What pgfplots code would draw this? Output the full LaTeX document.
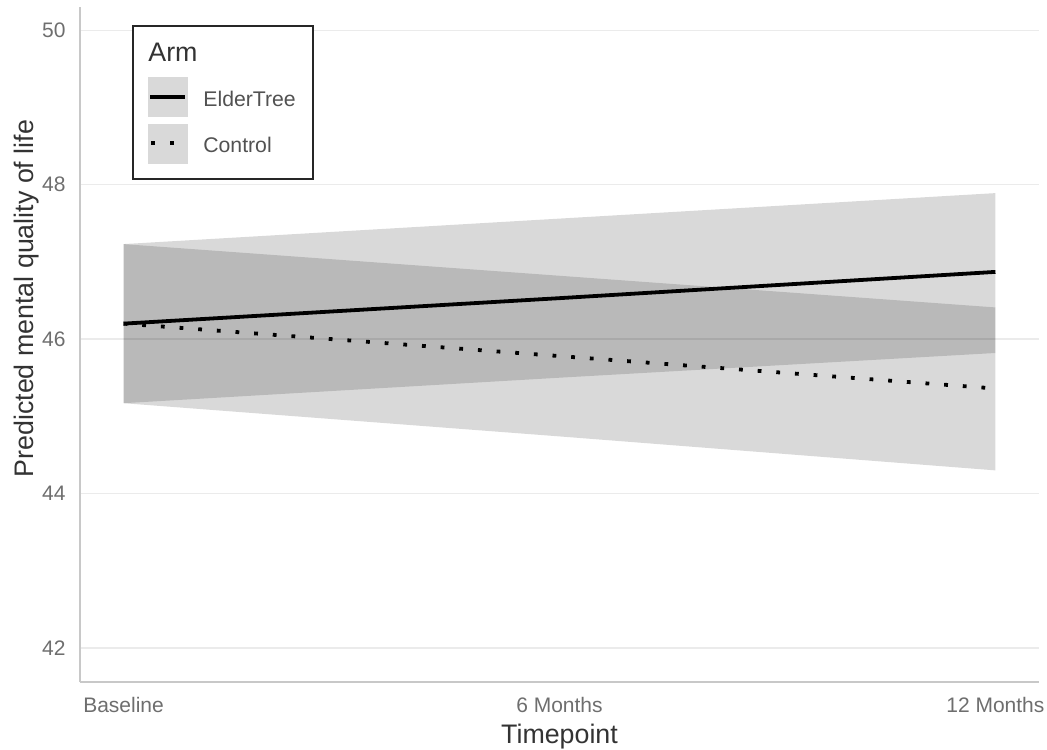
\documentclass[border=0pt]{standalone}
\usepackage{fontspec}
\setmainfont{Liberation Sans}
\usepackage{pgfplots}
\usepackage{pgfplotstable}
\pgfplotsset{compat=1.18}
\usepgfplotslibrary{fillbetween}

\definecolor{gridgray}{HTML}{EBEBEB}
\definecolor{axisgray}{HTML}{C8C8C8}
\definecolor{ticktext}{HTML}{6E6E6E}
\definecolor{titletext}{HTML}{333333}

% predicted means with 95% confidence limits, per arm
\pgfplotstableread{
t  elder eldlo eldhi control conlo conhi
0  46.20 45.17 47.23 46.20 45.17 47.23
1  46.53 45.50 47.56 45.78 44.74 46.82
2  46.87 45.82 47.89 45.36 44.30 46.41
}\armdata

\begin{document}
\begin{tikzpicture}
\begin{axis}[
  at={(40pt,33.5pt)}, anchor=south west,
  scale only axis, width=479.5pt, height=337.5pt,
  xmin=-0.1, xmax=2.1, ymin=41.56, ymax=50.30,
  xtick={0,1,2}, xticklabels={Baseline,6 Months,12 Months},
  ytick={42,44,46,48,50},
  ymajorgrids, major grid style={gridgray, line width=0.6pt},
  axis x line*=bottom, axis y line*=left,
  axis line style={axisgray, line width=1pt, -},
  major tick length=0pt,
  tick label style={font=\fontsize{10.5}{12}\selectfont, text=ticktext, inner sep=0pt},
  /pgf/number format/assume math mode=true,
  xticklabel style={anchor=base, yshift=-15pt},
  yticklabel style={anchor=east, xshift=-7pt},
  xlabel={Timepoint}, ylabel={Predicted mental quality of life},
  label style={font=\fontsize{13.4}{16}\selectfont, text=titletext, inner sep=0pt},
  xlabel style={at={(axis description cs:0.5,0)}, anchor=base, yshift=-30.5pt},
  ylabel style={at={(axis description cs:-0.049,0.568)}, anchor=base},
]
\addplot[name path=eu, draw=none, forget plot] table[x=t, y=eldhi] {\armdata};
\addplot[name path=el, draw=none, forget plot] table[x=t, y=eldlo] {\armdata};
\addplot[name path=cu, draw=none, forget plot] table[x=t, y=conhi] {\armdata};
\addplot[name path=cl, draw=none, forget plot] table[x=t, y=conlo] {\armdata};
\addplot[fill=black, fill opacity=0.15, draw=none] fill between[of=eu and el];
\addplot[fill=black, fill opacity=0.15, draw=none] fill between[of=cu and cl];
\addplot[black, line width=1.9pt, dash pattern=on 1.9pt off 7.45pt] table[x=t, y=control] {\armdata};
\addplot[black, line width=1.9pt] table[x=t, y=elder] {\armdata};
\end{axis}

% legend
\draw[black!85, line width=0.75pt, fill=white] (66.5pt,285pt) rectangle (156.5pt,361.6pt);
\node[anchor=base west, inner sep=0pt, font=\fontsize{13.4}{16}\selectfont, text=titletext] at (74pt,343.5pt) {Arm};
\fill[black, opacity=0.15] (74pt,316.15pt) rectangle (94pt,336.15pt);
\draw[black, line width=1.9pt] (75pt,326.15pt) -- (92.5pt,326.15pt);
\fill[black, opacity=0.15] (74pt,292.5pt) rectangle (94pt,312.35pt);
\draw[black, line width=1.9pt, dash pattern=on 1.9pt off 7.6pt] (75.5pt,303pt) -- (86.9pt,303pt);
\node[anchor=base west, inner sep=0pt, font=\fontsize{10.6}{12}\selectfont, text=titletext!85!white] at (101.5pt,321.15pt) {ElderTree};
\node[anchor=base west, inner sep=0pt, font=\fontsize{10.6}{12}\selectfont, text=titletext!85!white] at (101.5pt,298pt) {Control};

% fixed page frame
\pgfresetboundingbox
\path[use as bounding box] (0,0) rectangle (523.5pt,374.5pt);
\end{tikzpicture}
\end{document}
